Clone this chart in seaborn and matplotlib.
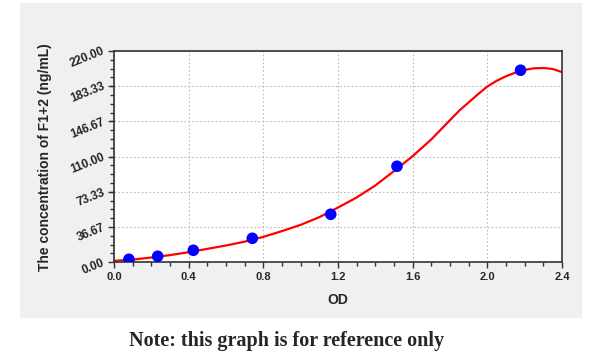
import matplotlib
matplotlib.use("Agg")
import matplotlib.pyplot as plt
import seaborn as sns
import pandas as pd
from matplotlib.patches import Rectangle
from matplotlib.ticker import FixedLocator, AutoMinorLocator

# standard points
od = [0.080, 0.234, 0.425, 0.741, 1.161, 1.516, 2.178]
conc = [3.125, 6.25, 12.5, 25, 50, 100, 200]

# fitted curve
curve_od = [0.0, 0.1, 0.2, 0.3, 0.4, 0.5, 0.6, 0.7, 0.8, 0.9, 1.0, 1.1, 1.2,
            1.3, 1.4, 1.5, 1.6, 1.7, 1.8, 1.85, 1.9, 1.95, 2.0, 2.05, 2.1,
            2.15, 2.2, 2.25, 2.3, 2.35, 2.4]
curve_conc = [1.5, 2.8, 5.0, 7.5, 10.5, 14.0, 17.5, 21.5, 26.5, 32.5, 39.0, 47.0, 57.0,
              67.5, 80.0, 95.0, 110.5, 128.0, 148.0, 158.0, 166.5, 175.0, 183.0, 189.0, 193.7,
              197.5, 200.3, 202.0, 202.3, 201.3, 198.0]

y_ticks = [0, 36.67, 73.33, 110, 146.67, 183.33, 220]
x_ticks = [0.0, 0.4, 0.8, 1.2, 1.6, 2.0, 2.4]

df = pd.DataFrame({"OD": od, "conc": conc})
df_curve = pd.DataFrame({"OD": curve_od, "conc": curve_conc})

sns.set_theme(style="white")
plt.rcParams["font.family"] = ["Liberation Sans", "DejaVu Sans"]

fig = plt.figure(figsize=(6, 3.63), dpi=100, facecolor="white")
# gray panel behind the chart
fig.patches.append(Rectangle((20 / 600, 1 - 318 / 363), 562 / 600, 315 / 363,
                             transform=fig.transFigure, facecolor="#f0f0f0",
                             edgecolor="none", zorder=-5))
ax = fig.add_axes([114 / 600, 1 - 262.3 / 363, 448 / 600, 211.3 / 363])
ax.set_zorder(2)
ax.set_facecolor("white")

sns.lineplot(data=df_curve, x="OD", y="conc", color="red", lw=1.6, zorder=2, ax=ax)
sns.scatterplot(data=df, x="OD", y="conc", color="#0000ff", s=70,
                edgecolor="none", zorder=3, ax=ax)
ax.set_xlim(0, 2.4)
ax.set_ylim(0, 220)

ax.xaxis.set_major_locator(FixedLocator(x_ticks))
ax.yaxis.set_major_locator(FixedLocator(y_ticks))
ax.xaxis.set_minor_locator(AutoMinorLocator(4))
ax.yaxis.set_minor_locator(AutoMinorLocator(4))
ax.set_xticklabels([f"{t:.1f}" for t in x_ticks], fontsize=8, fontweight="bold")
ax.set_yticklabels([f"{t:.2f}" for t in y_ticks], fontsize=8.5, fontweight="bold",
                   rotation=22, ha="right", va="center", rotation_mode="anchor")
ax.tick_params(which="major", direction="out", length=4, width=1, color="#333333",
               bottom=True, left=True, pad=3)
ax.tick_params(which="minor", direction="out", length=3, width=1, color="#333333",
               bottom=True, left=True)
ax.grid(True, which="major", linestyle=(0, (1.5, 2)), color="#bbbbbb", lw=0.8)
for s in ax.spines.values():
    s.set_color("#333333")
    s.set_linewidth(1.2)

ax.set_xlabel("OD", fontsize=10, fontweight="bold", labelpad=8)
ax.set_ylabel("The concentration of F1+2 (ng/mL)", fontsize=10, fontweight="bold",
              labelpad=12)

fig.text(287 / 600, 1 - 341 / 363, "Note: this graph is for reference only",
         ha="center", va="center", fontsize=14.5, fontweight="bold",
         family=["Liberation Serif", "DejaVu Serif"])

fig.savefig("out.png", dpi=100, facecolor="white")
